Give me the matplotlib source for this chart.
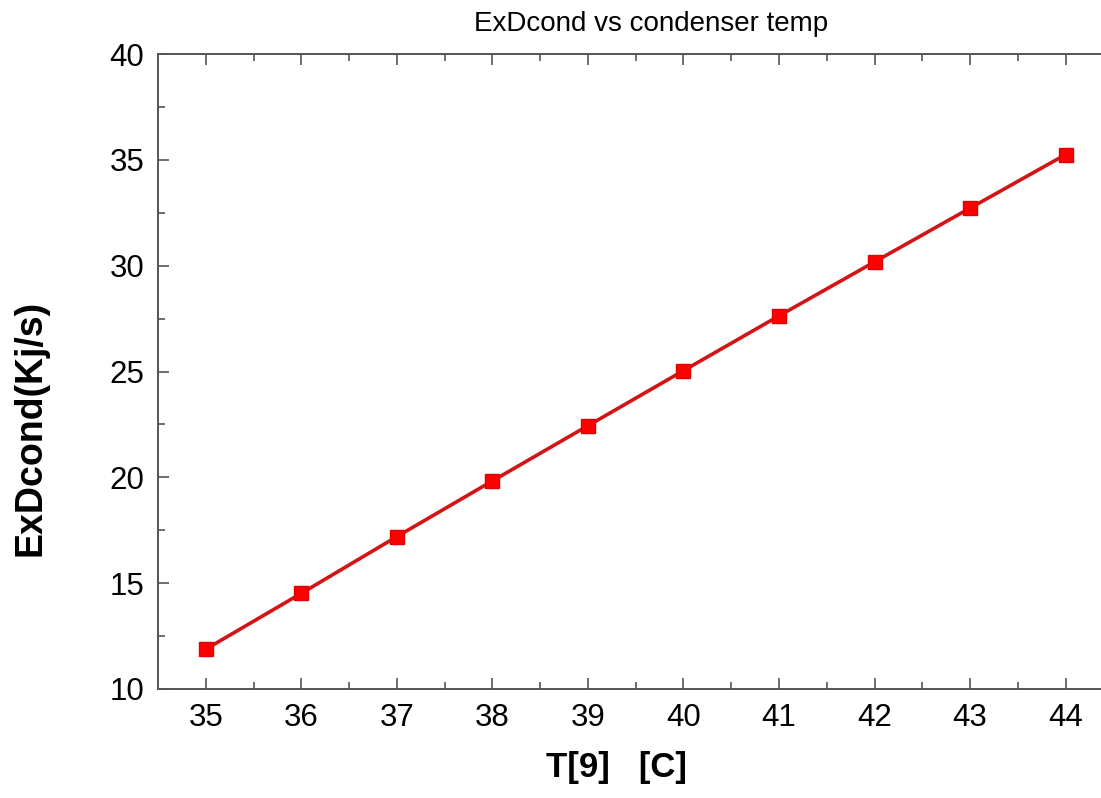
import matplotlib
matplotlib.use("Agg")
import matplotlib.pyplot as plt
from matplotlib.ticker import MultipleLocator

plt.rcParams['font.family'] = ['Liberation Sans', 'DejaVu Sans']

# condenser temperature T[9] [C] and exergy destruction in condenser
temps = [35, 36, 37, 38, 39, 40, 41, 42, 43, 44]
exd_cond = [11.88, 14.52, 17.20, 19.83, 22.44, 25.04, 27.63, 30.18, 32.72, 35.25]

W, H = 1101, 798
fig = plt.figure(figsize=(W / 100, H / 100), dpi=100)
ax = fig.add_axes([158 / W, 1 - 689 / H, (W - 158) / W, (689 - 54) / H])

ax.plot(temps, exd_cond, color='#d41414', lw=2.6, marker='s', ms=9.5,
        markerfacecolor='#ff0000', markeredgecolor='#e00000', zorder=3)

ax.set_xlim(34.5, 44.37)
ax.set_ylim(10, 40)
ax.xaxis.set_major_locator(MultipleLocator(1))
ax.xaxis.set_minor_locator(MultipleLocator(0.5))
ax.yaxis.set_major_locator(MultipleLocator(5))
ax.yaxis.set_minor_locator(MultipleLocator(2.5))

for side in ['left', 'bottom', 'top']:
    ax.spines[side].set_color('#555555')
    ax.spines[side].set_linewidth(1.4)
ax.spines['right'].set_visible(False)

ax.tick_params(which='both', direction='in', top=True, right=False,
               color='#555555', width=1.2)
ax.tick_params(which='major', length=8, labelsize=22.5, pad=10)
ax.tick_params(which='minor', length=5)

fig.text(651 / W, 1 - 24 / H, 'ExDcond vs condenser temp', fontsize=20,
         ha='center', va='center')
fig.text(617 / W, 1 - 768 / H, 'T[9]   [C]', fontsize=25, fontweight='bold',
         ha='center', va='center')
fig.text(31 / W, 1 - 428 / H, 'ExDcond(Kj/s)', fontsize=27, fontweight='bold',
         rotation=90, ha='center', va='center')

fig.savefig('out.png', dpi=100)
